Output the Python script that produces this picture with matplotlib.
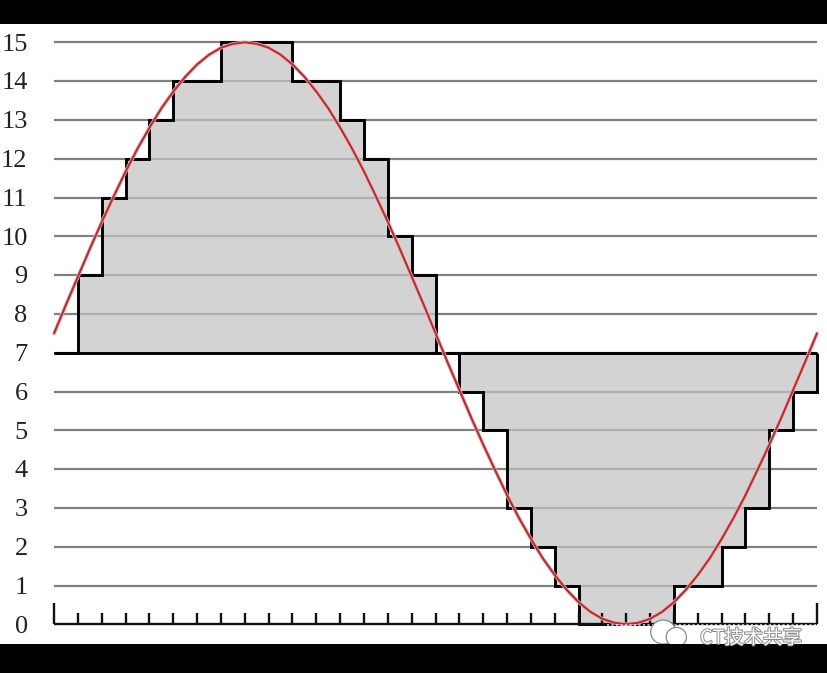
import matplotlib
matplotlib.use('Agg')
import matplotlib.pyplot as plt
import matplotlib.patheffects as pe
from matplotlib.patches import Ellipse
import numpy as np

plt.rcParams['font.family'] = ['Liberation Serif', 'DejaVu Serif']

# 量化台阶，共32格
levels = [7, 9, 11, 12, 13, 14, 14, 15, 15, 15, 14, 14, 13, 12, 10, 9,
          7, 6, 5, 3, 2, 1, 0, 0, 0, 0, 1, 1, 2, 3, 5, 6]
mid_level = 7
y_labels = list(range(16))

# 红色曲线读数，每半格一个点
curve_x = [i / 2 for i in range(65)]
curve_y = [7.50, 8.24, 8.96, 9.68, 10.37, 11.03, 11.67, 12.26, 12.80, 13.30, 13.73, 14.11, 14.43, 14.68, 14.86, 14.96,
           15.00, 14.96, 14.86, 14.68, 14.43, 14.11, 13.73, 13.30, 12.80, 12.26, 11.67, 11.03, 10.37, 9.68, 8.96, 8.24,
           7.50, 6.76, 6.04, 5.32, 4.63, 3.97, 3.33, 2.74, 2.20, 1.70, 1.27, 0.89, 0.57, 0.32, 0.14, 0.04,
           0.00, 0.04, 0.14, 0.32, 0.57, 0.89, 1.27, 1.70, 2.20, 2.74, 3.33, 3.97, 4.63, 5.32, 6.04, 6.76, 7.50]

edges = np.arange(len(levels) + 1)

fig = plt.figure(figsize=(8.28, 6.73), dpi=100, facecolor='black')
ax = fig.add_axes([0, 29 / 673, 1, 620 / 673], facecolor='white')
ax.set_xlim(-54.1 / 23.84, (828 - 54.1) / 23.84)
ax.set_ylim(-19.7 / 38.8, 600.3 / 38.8)
ax.set_xticks([])
ax.set_yticks([])
for s in ax.spines.values():
    s.set_visible(False)

# 灰色横线
ax.hlines(y_labels[1:], 0, 32, color='#808080', linewidth=1.6, zorder=1)

# 灰色填充和黑色台阶
ax.stairs(levels, edges, baseline=mid_level, fill=True, color='#c2c2c2', alpha=0.72, linewidth=0, zorder=2)
ax.stairs(levels, edges, baseline=mid_level, color='black', linewidth=2.1, zorder=3)
ax.hlines(mid_level, 0, 32, color='black', linewidth=2.1, zorder=3)

# 底部刻度
ax.hlines(0, 0, 32, color='#111111', linewidth=1.7, zorder=3)
ax.vlines(edges[1:-1], 0, 0.29, color='#111111', linewidth=1.7, zorder=3)
ax.vlines([0, 32], 0, 0.56, color='#111111', linewidth=1.7, zorder=3)

# 红色曲线
ax.plot(curve_x, curve_y, color='#eeb4b4', linewidth=2.6, zorder=4, solid_capstyle='round')
ax.plot(curve_x, curve_y, color='#bd2a30', linewidth=1.5, zorder=5, solid_capstyle='round')

# 左侧数字
for v in y_labels:
    ax.text(-1.11, v - 0.06, str(v), ha='right', va='center', fontsize=19, color='#222222')

# 水印
ax.hlines(-0.02, 23.2, 32, color='white', linewidth=1.2, linestyles=(0, (1.2, 1.5)), alpha=0.8, zorder=6)
wm = [pe.withStroke(linewidth=1.4, foreground='#8a8a8a')]
ax.text(27.1, -0.36, 'CT技术共享', ha='left', va='center', fontsize=14, color='white',
        family=['Noto Sans CJK SC', 'DejaVu Sans'], path_effects=wm, zorder=7)
for cx, cy, w, h in [(25.55, -0.2, 1.05, 0.62), (26.1, -0.33, 0.85, 0.5)]:
    ax.add_patch(Ellipse((cx, cy), w, h, facecolor='white', edgecolor='#8a8a8a', linewidth=0.9, zorder=7))

plt.savefig('out.png', dpi=100, facecolor='black')
plt.close()
